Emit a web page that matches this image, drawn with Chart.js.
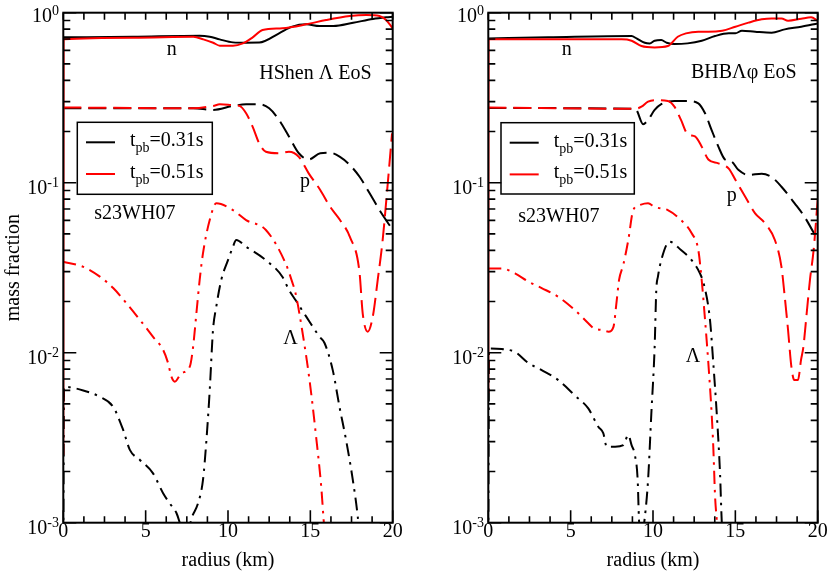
<!DOCTYPE html>
<html><head><meta charset="utf-8">
<script src="https://cdn.jsdelivr.net/npm/chart.js@4.4.0/dist/chart.umd.min.js"></script>
<style>
html,body{margin:0;padding:0;background:#fff;}
#wrap{position:relative;width:830px;height:573px;overflow:hidden;}
.pane{position:absolute;top:0;width:415px;height:573px;}
</style></head><body>
<div id="wrap">
<div class="pane" style="left:0"><canvas id="c1"></canvas></div>
<div class="pane" style="left:415px"><canvas id="c2"></canvas></div>
</div>
<script>
// ---------- tick labels ----------
const xTickValues = [0, 5, 10, 15, 20];
const xTickLabels = ['0', '5', '10', '15', '20'];
const yTickValues = [1, 0.1, 0.01, 0.001];
const yTickExponents = ['0', '-1', '-2', '-3'];
const seriesLabels = ['t_pb=0.31s', 't_pb=0.51s'];

// ---------- HShen Lambda EoS (left) ----------
const hs_n31_r = [0, 4.24, 8.28, 8.89, 9.49, 10.3, 11.1, 11.9, 13.1, 13.9, 14.75, 15.56, 16.4, 17.6, 18.8, 19.6, 20];
const hs_n31_v = [0.716, 0.722, 0.732, 0.722, 0.697, 0.669, 0.666, 0.667, 0.756, 0.828, 0.854, 0.835, 0.835, 0.873, 0.918, 0.939, 0.947];
const hs_n51_r = [0, 0.02, 4.24, 7.9, 8.5, 9.1, 9.5, 10.3, 10.9, 11.5, 12.1, 13.3, 14.75, 15.96, 17.4, 18.4, 19.2, 19.6, 20];
const hs_n51_v = [0.0025, 0.697, 0.713, 0.722, 0.697, 0.666, 0.64, 0.64, 0.66, 0.716, 0.791, 0.81, 0.854, 0.906, 0.956, 0.969, 0.956, 0.906, 0.81];
const hs_p31_r = [0, 7.88, 9.09, 10.3, 11.1, 11.9, 12.5, 13.1, 13.7, 14.3, 14.9, 15.6, 16.2, 16.8, 17.4, 18.0, 18.6, 19.2, 20];
const hs_p31_v = [0.274, 0.274, 0.268, 0.283, 0.289, 0.289, 0.274, 0.234, 0.187, 0.149, 0.137, 0.149, 0.150, 0.142, 0.127, 0.108, 0.0866, 0.069, 0.0527];
const hs_p51_r = [0, 7.88, 9.1, 9.5, 10.3, 10.7, 11.1, 11.5, 11.9, 12.3, 13.1, 13.7, 14.3, 14.9, 15.6, 16.2, 16.8, 17.4, 17.98, 18.18, 18.48, 18.79, 19.09, 19.39, 19.7, 19.96];
const hs_p51_v = [0.277, 0.274, 0.283, 0.289, 0.286, 0.283, 0.256, 0.213, 0.170, 0.152, 0.149, 0.152, 0.142, 0.1135, 0.0906, 0.0722, 0.0603, 0.048, 0.030, 0.017, 0.0133, 0.0163, 0.0268, 0.046, 0.099, 0.195];
const hs_L31_r = [0, 0.05, 1.21, 2.22, 3.03, 3.64, 4.04, 4.65, 5.45, 6.06, 6.46, 6.87, 7.1, 7.4, 7.7, 7.8, 8.18, 8.48, 8.69, 8.89, 9.09, 9.29, 9.6, 10.0, 10.3, 10.5, 11.1, 12.3, 13.3, 13.7, 14.1, 14.75, 15.56, 15.86, 16.36, 16.77, 17.17, 17.58, 17.88, 18.0];
const hs_L31_v = [0.0008, 0.0063, 0.006, 0.0055, 0.0048, 0.0035, 0.00268, 0.00234, 0.00195, 0.00149, 0.0013, 0.00114, 0.00098, 0.0008, 0.00098, 0.00107, 0.0013, 0.00178, 0.00306, 0.006, 0.0136, 0.0187, 0.027, 0.035, 0.042, 0.046, 0.042, 0.035, 0.028, 0.0234, 0.0204, 0.0163, 0.0124, 0.0114, 0.0079, 0.0048, 0.00306, 0.00178, 0.00108, 0.0008];
const hs_L51_r = [0, 1.21, 2.22, 3.03, 3.84, 4.65, 5.45, 6.06, 6.36, 6.57, 6.77, 7.17, 7.68, 7.88, 8.08, 8.28, 8.48, 8.89, 9.29, 10.3, 11.1, 12.3, 13.5, 13.9, 14.1, 14.5, 14.95, 15.35, 15.66, 15.8, 15.9];
const hs_L51_v = [0.0343, 0.032, 0.028, 0.0240, 0.0195, 0.0156, 0.0124, 0.0104, 0.0087, 0.0072, 0.00675, 0.00757, 0.00828, 0.0108, 0.017, 0.0268, 0.0384, 0.0603, 0.0756, 0.069, 0.0603, 0.0527, 0.0335, 0.026, 0.0224, 0.0136, 0.0069, 0.0032, 0.00163, 0.00106, 0.0008];

// ---------- BHB Lambda phi EoS (right) ----------
const bh_n31_r = [0, 3.64, 8.7, 9.0, 9.5, 9.8, 10.1, 10.5, 10.83, 11.3, 12.1, 12.96, 13.77, 14.6, 15.0, 15.4, 16.2, 17.2, 18.0, 19.0, 20];
const bh_n31_v = [0.706, 0.716, 0.729, 0.706, 0.666, 0.66, 0.684, 0.69, 0.666, 0.654, 0.66, 0.684, 0.729, 0.756, 0.756, 0.784, 0.773, 0.763, 0.798, 0.827, 0.865];
const bh_n51_r = [0, 0.02, 8.1, 8.7, 9.3, 10.1, 10.9, 11.5, 12.0, 12.75, 13.36, 14.2, 15.0, 15.8, 16.6, 17.2, 17.8, 18.2, 19.0, 19.6, 20];
const bh_n51_v = [0.0058, 0.697, 0.697, 0.684, 0.637, 0.625, 0.637, 0.722, 0.756, 0.773, 0.773, 0.784, 0.827, 0.874, 0.914, 0.926, 0.926, 0.897, 0.922, 0.939, 0.897];
const bh_p31_r = [0, 8.9, 9.0, 9.4, 9.7, 10.1, 10.5, 11.3, 12.1, 12.75, 13.16, 13.56, 13.97, 14.37, 14.78, 15.18, 15.8, 16.6, 17.2, 17.8, 18.6, 19.2, 20];
const bh_p31_v = [0.275, 0.272, 0.268, 0.221, 0.234, 0.268, 0.29, 0.302, 0.302, 0.293, 0.256, 0.204, 0.163, 0.137, 0.133, 0.119, 0.111, 0.113, 0.108, 0.0947, 0.0756, 0.063, 0.046];
const bh_p51_r = [0, 8.9, 9.3, 9.7, 10.1, 10.9, 11.3, 11.7, 12.1, 12.55, 12.96, 13.36, 13.97, 14.6, 15.0, 15.6, 16.2, 16.8, 17.4, 17.8, 18.0, 18.2, 18.4, 18.58, 18.8, 18.99, 19.13, 19.33, 19.53, 19.75, 20];
const bh_p51_v = [0.277, 0.272, 0.28, 0.30, 0.306, 0.302, 0.28, 0.234, 0.193, 0.187, 0.163, 0.137, 0.13, 0.121, 0.104, 0.0827, 0.066, 0.0577, 0.046, 0.032, 0.0213, 0.0136, 0.0083, 0.0069, 0.0069, 0.0091, 0.0108, 0.017, 0.0268, 0.04, 0.079];
const bh_L31_r = [0, 0.05, 0.81, 1.62, 2.43, 3.24, 4.25, 5.26, 6.07, 6.68, 6.98, 7.19, 7.7, 8.2, 8.5, 8.7, 8.9, 9.07, 9.15, 9.3, 9.5, 9.7, 9.9, 10.1, 10.2, 10.3, 10.5, 11.0, 11.7, 12.35, 12.85, 13.1, 13.46, 13.66, 13.87, 14.07, 14.17, 14.25];
const bh_L31_v = [0.0008, 0.0106, 0.0105, 0.0101, 0.0087, 0.0079, 0.0069, 0.0056, 0.0047, 0.00367, 0.00336, 0.0028, 0.0028, 0.00286, 0.00328, 0.00286, 0.0025, 0.00178, 0.00104, 0.0008, 0.00107, 0.00178, 0.0044, 0.0108, 0.0234, 0.028, 0.035, 0.045, 0.0402, 0.035, 0.0293, 0.025, 0.0156, 0.0087, 0.0044, 0.00195, 0.00104, 0.0008];
const bh_L51_r = [0, 0.81, 1.62, 2.43, 3.24, 4.25, 5.26, 6.07, 6.4, 6.9, 7.3, 7.6, 7.8, 7.94, 8.2, 8.5, 8.8, 9.2, 9.7, 10.1, 10.9, 11.7, 12.35, 12.75, 12.96, 13.16, 13.36, 13.56, 13.66, 13.77, 13.87, 13.95];
const bh_L51_v = [0.0313, 0.0313, 0.0293, 0.0262, 0.0240, 0.0213, 0.0178, 0.0149, 0.0139, 0.0136, 0.0133, 0.0142, 0.0204, 0.0268, 0.033, 0.046, 0.069, 0.074, 0.0756, 0.072, 0.069, 0.0603, 0.0504, 0.0402, 0.0265, 0.0156, 0.0087, 0.0044, 0.0028, 0.00142, 0.00104, 0.0008];

// ---------- styling ----------
const FONT = '"Liberation Serif", "Times New Roman", Times, serif';
const RED = '#ff0000', BLACK = '#000000';
const DASH = [18, 7];
const DASHDOT = [13, 6, 2.5, 6];

function pts(r, v) { return r.map((x, i) => ({ x: x, y: v[i] })); }
function ds(label, r, v, color, dash) {
  return { label: label, data: pts(r, v), borderColor: color, borderDash: dash, borderWidth: 2,
    pointRadius: 0, fill: false, cubicInterpolationMode: 'monotone' };
}

function axesPlugin(cfg) {
  return {
    id: 'axesFrame',
    afterDraw(chart) {
      const ctx = chart.ctx, a = chart.chartArea, xs = chart.scales.x, ys = chart.scales.y;
      ctx.save();
      ctx.strokeStyle = '#000'; ctx.fillStyle = '#000';
      // ticks
      ctx.lineWidth = 1.6;
      ctx.beginPath();
      for (let k = 0; k <= 16; k++) {
        const px = xs.getPixelForValue(k * 1.25);
        const major = k % 4 === 0;
        ctx.moveTo(px, a.bottom); ctx.lineTo(px, a.bottom - (major ? 12.5 : 6.5));
        ctx.moveTo(px, a.top); ctx.lineTo(px, a.top + 7);
      }
      for (let e = -3; e <= 0; e++) {
        for (let m = 1; m <= 9; m++) {
          const v = m * Math.pow(10, e);
          if (v > 1.0001) break;
          const py = ys.getPixelForValue(v);
          const l = m === 1 ? 13 : 7;
          ctx.moveTo(a.left, py); ctx.lineTo(a.left + l, py);
          ctx.moveTo(a.right, py); ctx.lineTo(a.right - l, py);
        }
      }
      ctx.stroke();
      ctx.lineWidth = 2;
      ctx.strokeRect(a.left, a.top, a.right - a.left, a.bottom - a.top);

      // x tick labels
      ctx.font = '20px ' + FONT; ctx.textAlign = 'center'; ctx.textBaseline = 'alphabetic';
      xTickValues.forEach((v, i) => ctx.fillText(xTickLabels[i], xs.getPixelForValue(v), a.bottom + 14));
      // y tick labels 10^n
      yTickValues.forEach((v, i) => {
        const py = ys.getPixelForValue(v);
        const adj = v === 1 ? -2 : 0;
        const exp = yTickExponents[i];
        const right = a.left - 4.3;
        ctx.textAlign = 'left';
        ctx.font = '14px ' + FONT;
        const we = ctx.measureText(exp).width;
        ctx.fillText(exp, right - we, py + 4.6 + adj);
        ctx.font = '20px ' + FONT;
        const wb = ctx.measureText('10').width;
        ctx.fillText('10', right - we - wb, py + 11.3 + adj);
      });
      // axis titles
      ctx.font = '20px ' + FONT; ctx.textAlign = 'center';
      ctx.fillText('radius (km)', (a.left + a.right) / 2, 566);
      if (cfg.yTitle) {
        ctx.save();
        ctx.translate(18.5, (a.top + a.bottom) / 2);
        ctx.rotate(-Math.PI / 2);
        ctx.fillText(cfg.yTitle, 0, 0);
        ctx.restore();
      }
      // annotations
      ctx.textAlign = 'left';
      cfg.notes.forEach(n => { ctx.font = '20px ' + FONT; ctx.fillText(n.t, n.x, n.y); });
      // legend
      const L = cfg.legend;
      ctx.lineWidth = 1.5;
      ctx.strokeRect(L.x, L.y, L.w, L.h);
      const rows = [{ c: BLACK, label: seriesLabels[0] }, { c: RED, label: seriesLabels[1] }];
      rows.forEach((row, i) => {
        const ly = L.y + 20 + i * 31.7;
        ctx.strokeStyle = row.c; ctx.lineWidth = 2;
        ctx.beginPath(); ctx.moveTo(L.x + 8.7, ly); ctx.lineTo(L.x + 37.7, ly); ctx.stroke();
        const parts = row.label.split('_');
        const sub = parts[1].split('=')[0];
        const rest = '=' + parts[1].split('=')[1];
        let tx = L.x + 52.7;
        const by = ly + 3.8;
        ctx.font = '20px ' + FONT; ctx.fillText(parts[0], tx, by); tx += ctx.measureText(parts[0]).width;
        ctx.font = '14px ' + FONT; ctx.fillText(sub, tx, by + 6); tx += ctx.measureText(sub).width;
        ctx.font = '20px ' + FONT; ctx.fillText(rest, tx, by);
      });
      ctx.restore();
    }
  };
}

function makeChart(id, sets, padL, padR, cfg) {
  return new Chart(document.getElementById(id), {
    type: 'line',
    data: { datasets: sets },
    options: {
      responsive: true, maintainAspectRatio: false, animation: false,
      layout: { padding: { left: padL, right: padR, top: 12.7, bottom: 50.3 } },
      scales: {
        x: { type: 'linear', min: 0, max: 20, display: false },
        y: { type: 'logarithmic', min: 0.001, max: 1, display: false }
      },
      plugins: { legend: { display: false }, tooltip: { enabled: false } },
      elements: { point: { radius: 0 } }
    },
    plugins: [axesPlugin(cfg)]
  });
}

makeChart('c1', [
  ds('n ' + seriesLabels[1], hs_n51_r, hs_n51_v, RED, []),
  ds('p ' + seriesLabels[1], hs_p51_r, hs_p51_v, RED, DASH),
  ds('Λ ' + seriesLabels[1], hs_L51_r, hs_L51_v, RED, DASHDOT),
  ds('n ' + seriesLabels[0], hs_n31_r, hs_n31_v, BLACK, []),
  ds('p ' + seriesLabels[0], hs_p31_r, hs_p31_v, BLACK, DASH),
  ds('Λ ' + seriesLabels[0], hs_L31_r, hs_L31_v, BLACK, DASHDOT)
], 63.3, 22.3, {
  yTitle: 'mass fraction',
  legend: { x: 77.3, y: 122.3, w: 135, h: 72 },
  notes: [
    { t: 'n', x: 166.7, y: 55 },
    { t: 'HShen Λ EoS', x: 259.3, y: 79 },
    { t: 'p', x: 300, y: 186.5 },
    { t: 's23WH07', x: 94.3, y: 219.3 },
    { t: 'Λ', x: 283.3, y: 344.3 }
  ]
});

makeChart('c2', [
  ds('n ' + seriesLabels[1], bh_n51_r, bh_n51_v, RED, []),
  ds('p ' + seriesLabels[1], bh_p51_r, bh_p51_v, RED, DASH),
  ds('Λ ' + seriesLabels[1], bh_L51_r, bh_L51_v, RED, DASHDOT),
  ds('n ' + seriesLabels[0], bh_n31_r, bh_n31_v, BLACK, []),
  ds('p ' + seriesLabels[0], bh_p31_r, bh_p31_v, BLACK, DASH),
  ds('Λ ' + seriesLabels[0], bh_L31_r, bh_L31_v, BLACK, DASHDOT)
], 73.3, 12.3, {
  yTitle: null,
  legend: { x: 86, y: 122.7, w: 133.3, h: 71.3 },
  notes: [
    { t: 'n', x: 146.7, y: 55 },
    { t: 'BHBΛφ EoS', x: 276, y: 77.7 },
    { t: 'p', x: 311.7, y: 201 },
    { t: 's23WH07', x: 103.3, y: 221.7 },
    { t: 'Λ', x: 270.7, y: 361.7 }
  ]
});
</script>
</body></html>
